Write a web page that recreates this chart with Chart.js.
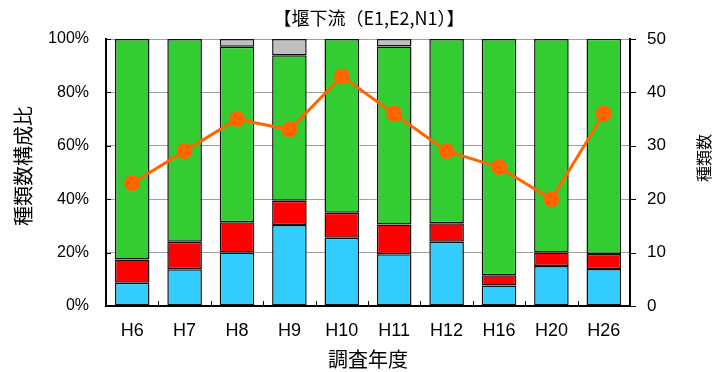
<!DOCTYPE html>
<html>
<head>
<meta charset="utf-8">
<script src="https://cdn.jsdelivr.net/npm/chart.js@4.4.1/dist/chart.umd.min.js"></script>
<style>
  body { margin: 0; background: #fff; }
  canvas { display: block; }
</style>
</head>
<body>
<canvas id="chart" width="713" height="372"></canvas>
<script>
// categories and values (percent of species per group, species count)
const years = ["H6", "H7", "H8", "H9", "H10", "H11", "H12", "H16", "H20", "H26"];
const bluePct = [8.7, 13.8, 20.0, 30.3, 25.6, 19.4, 24.1, 7.7, 15.0, 13.9];
const redPct = [8.7, 10.3, 11.4, 9.1, 9.3, 11.1, 6.9, 3.8, 5.0, 5.6];
const greenPct = [82.6, 75.9, 65.7, 54.5, 65.1, 66.7, 69.0, 88.5, 80.0, 80.6];
const grayPct = [0, 0, 2.9, 6.1, 0, 2.8, 0, 0, 0, 0];
const speciesCount = [23, 29, 35, 33, 43, 36, 29, 26, 20, 36];

const pctTicks = [0, 20, 40, 60, 80, 100];
const countTicks = [0, 10, 20, 30, 40, 50];

const chartTitle = "【堰下流（E1,E2,N1）】";
const xTitle = "調査年度";
const yTitle = "種類数構成比";
const y1Title = "種類数";

const jpFont = "'Noto Sans CJK JP', sans-serif";
Chart.defaults.font.family = "'Liberation Sans', Arial, sans-serif";
Chart.defaults.color = "#000";

// bar dataset helper
function barSet(data, color) {
  return {
    type: "bar",
    data: data,
    backgroundColor: color,
    borderColor: "#111",
    borderWidth: (c) => (c.raw ? 1.5 : 0),
    borderSkipped: false,
    barPercentage: 0.66,
    categoryPercentage: 1,
    yAxisID: "y",
    order: 1
  };
}

// titles and small tick marks
const extras = {
  id: "extras",
  afterDraw(chart) {
    const ctx = chart.ctx;
    const a = chart.chartArea;
    const y = chart.scales.y;
    const y1 = chart.scales.y1;
    ctx.save();
    ctx.strokeStyle = "#000";
    ctx.lineWidth = 1;
    ctx.beginPath();
    pctTicks.forEach((v) => {
      const py = Math.round(y.getPixelForValue(v)) + 0.5;
      ctx.moveTo(a.left, py); ctx.lineTo(a.left + 5, py);
    });
    countTicks.forEach((v) => {
      const py = Math.round(y1.getPixelForValue(v)) + 0.5;
      ctx.moveTo(a.right, py); ctx.lineTo(a.right + 6, py);
    });
    const step = (a.right - a.left) / years.length;
    for (let i = 1; i < years.length; i++) {
      const px = Math.round(a.left + step * i) + 0.5;
      ctx.moveTo(px, a.bottom); ctx.lineTo(px, a.bottom - 5);
    }
    ctx.stroke();

    ctx.fillStyle = "#000";
    ctx.textAlign = "center";
    ctx.textBaseline = "middle";
    ctx.font = "18px " + jpFont;
    ctx.fillText(chartTitle, 369, 18);
    ctx.font = "20px " + jpFont;
    ctx.fillText(xTitle, 368, 359);

    ctx.save();
    ctx.translate(23, 166);
    ctx.rotate(-Math.PI / 2);
    ctx.fillText(yTitle, 0, 0);
    ctx.restore();

    ctx.save();
    ctx.font = "16px " + jpFont;
    ctx.translate(704, 158);
    ctx.rotate(-Math.PI / 2);
    ctx.fillText(y1Title, 0, 0);
    ctx.restore();
    ctx.restore();
  }
};

new Chart(document.getElementById("chart"), {
  data: {
    labels: years,
    datasets: [
      barSet(bluePct, "#33ccff"),
      barSet(redPct, "#ff0000"),
      barSet(greenPct, "#33cc33"),
      barSet(grayPct, "#c0c0c0"),
      {
        type: "line",
        data: speciesCount,
        borderColor: "#ff6600",
        backgroundColor: "#ff6600",
        borderWidth: 3,
        pointRadius: 8,
        pointBorderWidth: 0,
        pointBackgroundColor: "#ff6600",
        tension: 0,
        yAxisID: "y1",
        order: 0
      }
    ]
  },
  options: {
    responsive: false,
    animation: false,
    layout: { padding: { top: 39, left: 0, right: 0, bottom: 0 } },
    plugins: {
      legend: { display: false },
      tooltip: { enabled: false },
      title: { display: false }
    },
    scales: {
      x: {
        stacked: true,
        grid: { display: false, drawTicks: false },
        border: { display: true, color: "#000", width: 2 },
        ticks: { font: { size: 18 }, padding: 14, maxRotation: 0 },
        afterFit: (s) => { s.height = 66; }
      },
      y: {
        stacked: true,
        position: "left",
        min: 0,
        max: 100,
        grid: { color: "#a0a0a0", lineWidth: 1, drawTicks: false },
        border: { display: true, color: "#000", width: 2 },
        ticks: { stepSize: 20, font: { size: 16 }, padding: 17, callback: (v) => v + "%" },
        afterFit: (s) => { s.width = 106; }
      },
      y1: {
        position: "right",
        stacked: false,
        min: 0,
        max: 50,
        grid: { display: false, drawTicks: false },
        border: { display: true, color: "#000", width: 2 },
        ticks: { stepSize: 10, font: { size: 17 }, padding: 17 },
        afterFit: (s) => { s.width = 83; }
      }
    }
  },
  plugins: [extras]
});
</script>
</body>
</html>
